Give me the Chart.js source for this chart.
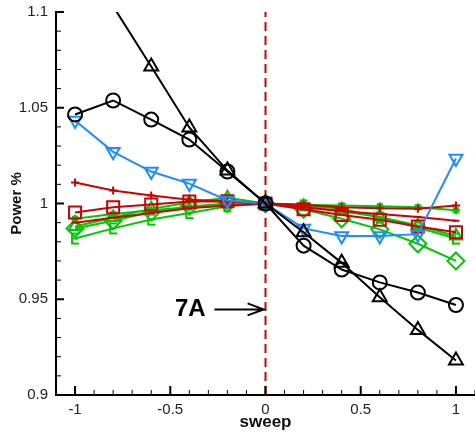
<!DOCTYPE html>
<html>
<head>
<meta charset="utf-8">
<script src="https://cdn.jsdelivr.net/npm/chart.js@4"></script>
<style>
  html, body { margin: 0; padding: 0; background: #fff; }
  #chart { display: block; }
</style>
</head>
<body>
<canvas id="chart" width="475" height="434"></canvas>
<script>
// sweep positions shared by every series
const sweep = [-1, -0.8, -0.6, -0.4, -0.2, 0, 0.2, 0.4, 0.6, 0.8, 1];

// series values (Power %)
const blackTriangle = [1.135, 1.103, 1.0715, 1.0397, 1.0172, 1.0, 0.985, 0.969, 0.951, 0.934, 0.918];
const blackCircle   = [1.0465, 1.0538, 1.0438, 1.0334, 1.0167, 1.0, 0.978, 0.9655, 0.9588, 0.9535, 0.947];
const blueTriangle  = [1.0433, 1.027, 1.0167, 1.0104, 1.0016, 1.0, 0.987, 0.983, 0.983, 0.984, 1.0235];
const redPlus       = [1.011, 1.0068, 1.0042, 1.002, 1.0012, 1.0, 0.9993, 0.998, 0.9975, 0.9972, 0.999];
const redSquare     = [0.9953, 0.998, 0.9995, 1.001, 1.0012, 1.0, 0.997, 0.994, 0.9915, 0.988, 0.985];
const redDash       = [0.990, 0.9925, 0.995, 0.9975, 0.999, 1.0, 0.998, 0.996, 0.9945, 0.993, 0.991];
const greenStar     = [0.992, 0.9945, 0.9965, 0.998, 0.999, 1.0, 0.9994, 0.999, 0.9986, 0.998, 0.9965];
const greenE        = [0.9817, 0.987, 0.9916, 0.995, 0.9985, 1.0, 0.999, 0.9972, 0.9927, 0.9875, 0.9817];
const greenDiamond  = [0.987, 0.991, 0.9955, 0.9985, 1.0, 1.0, 0.997, 0.992, 0.9865, 0.979, 0.970];
const greenTriangle = [0.988, 0.9927, 0.9972, 1.0005, 1.003, 1.0, 0.9985, 0.996, 0.993, 0.9885, 0.983];

// axes
const xTickLabels = [-1, -0.5, 0, 0.5, 1];
const yTickLabels = [0.9, 0.95, 1, 1.05, 1.1];
const xRange = [-1.1, 1.1];
const yRange = [0.9, 1.1];

// annotation: "7A" with arrow pointing at the reference sweep
const refSweep = 0;
const noteText = "7A";
const noteAt = { x: -0.395, y: 0.9447 };
const arrowFrom = -0.268;
const arrowTo = -0.01;

const RED = "#d00000";
const GREEN = "#00c800";
const BLUE = "#1e8cff";
const FONT = "'Liberation Sans', Arial, sans-serif";

function pts(values) {
    return values.map((v, i) => ({ x: sweep[i], y: v }));
}

// "E" shaped marker used by one of the green series
function makeEMarker(color) {
    let c = document.createElement("canvas");
    c.width = 10;
    c.height = 14;
    let g = c.getContext("2d");
    g.strokeStyle = color;
    g.lineWidth = 2;
    g.beginPath();
    g.moveTo(2, 1); g.lineTo(2, 13);
    g.moveTo(1, 2); g.lineTo(9, 2);
    g.moveTo(1, 7); g.lineTo(8, 7);
    g.moveTo(1, 12); g.lineTo(9, 12);
    g.stroke();
    return c;
}

function series(values, color, style, radius, extra) {
    return Object.assign({
        data: pts(values),
        borderColor: color,
        borderWidth: 2,
        pointStyle: style,
        pointRadius: ctx => (ctx.raw && ctx.raw.y > yRange[1]) ? 0 : radius,
        pointBorderColor: color,
        pointBackgroundColor: "rgba(0,0,0,0)",
        pointBorderWidth: 2,
        tension: 0,
        clip: 0
    }, extra || {});
}

// inward ticks and the note/arrow
const decorPlugin = {
    id: "decor",
    afterDatasetsDraw(chart) {
        let ctx = chart.ctx;
        let xs = chart.scales.x, ys = chart.scales.y;
        let area = chart.chartArea;
        ctx.save();
        ctx.strokeStyle = "#000";

        // x ticks, pointing up into the plot
        for (let k = -11; k <= 11; k++) {
            let v = k / 10;
            let major = xTickLabels.some(t => Math.abs(t - v) < 1e-9);
            let px = xs.getPixelForValue(v);
            ctx.lineWidth = major ? 2 : 1;
            ctx.beginPath();
            ctx.moveTo(px, area.bottom);
            ctx.lineTo(px, area.bottom - (major ? 9 : 5));
            ctx.stroke();
        }
        // y ticks, pointing right into the plot
        for (let k = 90; k <= 110; k++) {
            let v = k / 100;
            let major = yTickLabels.some(t => Math.abs(t - v) < 1e-9);
            let py = ys.getPixelForValue(v);
            ctx.lineWidth = major ? 2 : 1;
            ctx.beginPath();
            ctx.moveTo(area.left, py);
            ctx.lineTo(area.left + (major ? 8 : 5), py);
            ctx.stroke();
        }

        // note text
        let ny = ys.getPixelForValue(noteAt.y);
        ctx.fillStyle = "#000";
        ctx.font = "bold 24px " + FONT;
        ctx.textAlign = "center";
        ctx.textBaseline = "middle";
        ctx.fillText(noteText, xs.getPixelForValue(noteAt.x), ny);

        // arrow
        let x0 = xs.getPixelForValue(arrowFrom);
        let x1 = xs.getPixelForValue(arrowTo);
        ctx.lineWidth = 2;
        ctx.beginPath();
        ctx.moveTo(x0, ny);
        ctx.lineTo(x1, ny);
        ctx.moveTo(x1 - 16, ny - 6);
        ctx.lineTo(x1, ny);
        ctx.lineTo(x1 - 16, ny + 6);
        ctx.stroke();
        ctx.restore();
    }
};

const eMarker = makeEMarker(GREEN);

new Chart(document.getElementById("chart"), {
    type: "line",
    data: {
        datasets: [
            series(blackTriangle, "#000", "triangle", 8),
            series(blackCircle, "#000", "circle", 7),
            series(blueTriangle, BLUE, "triangle", 7.5, { pointRotation: 180 }),
            series(redPlus, RED, "cross", 4),
            series(redSquare, RED, "rect", 8.5),
            series(redDash, RED, "line", 3.5),
            series(greenStar, GREEN, "star", 4),
            series(greenE, GREEN, eMarker, 6),
            series(greenDiamond, GREEN, "rectRot", 8.5),
            series(greenTriangle, GREEN, "triangle", 7),
            {
                data: [{ x: refSweep, y: yRange[0] }, { x: refSweep, y: yRange[1] }],
                borderColor: RED,
                borderWidth: 2,
                borderDash: [9, 5],
                pointRadius: 0,
                clip: 0
            }
        ]
    },
    options: {
        responsive: false,
        animation: false,
        layout: { autoPadding: false, padding: { top: 12, right: 0, left: 0, bottom: 0 } },
        plugins: { legend: { display: false }, tooltip: { enabled: false } },
        scales: {
            x: {
                type: "linear",
                min: xRange[0],
                max: xRange[1],
                afterBuildTicks: s => { s.ticks = xTickLabels.map(v => ({ value: v })); },
                afterFit: s => { s.height = 39; s.paddingLeft = 0; s.paddingRight = 0; },
                grid: { display: false, drawTicks: false },
                border: { display: true, color: "#000", width: 2 },
                ticks: {
                    padding: 6,
                    color: "#222",
                    font: { family: FONT, size: 15 },
                    maxRotation: 0,
                    callback: v => String(+v.toFixed(2))
                },
                title: {
                    display: true,
                    text: "sweep",
                    color: "#111",
                    font: { family: FONT, size: 17, weight: "bold" },
                    padding: { top: 0, bottom: 1 }
                }
            },
            y: {
                type: "linear",
                min: yRange[0],
                max: yRange[1],
                afterBuildTicks: s => { s.ticks = yTickLabels.map(v => ({ value: v })); },
                afterFit: s => { s.width = 56; s.paddingTop = 0; s.paddingBottom = 0; },
                grid: { display: false, drawTicks: false },
                border: { display: true, color: "#000", width: 2 },
                ticks: {
                    padding: 8,
                    color: "#222",
                    font: { family: FONT, size: 15 },
                    callback: v => String(+v.toFixed(2))
                },
                title: {
                    display: true,
                    text: "Power %",
                    color: "#111",
                    font: { family: FONT, size: 15, weight: "bold" },
                    padding: { top: 8, bottom: 0 }
                }
            }
        }
    },
    plugins: [decorPlugin]
});
</script>
</body>
</html>
